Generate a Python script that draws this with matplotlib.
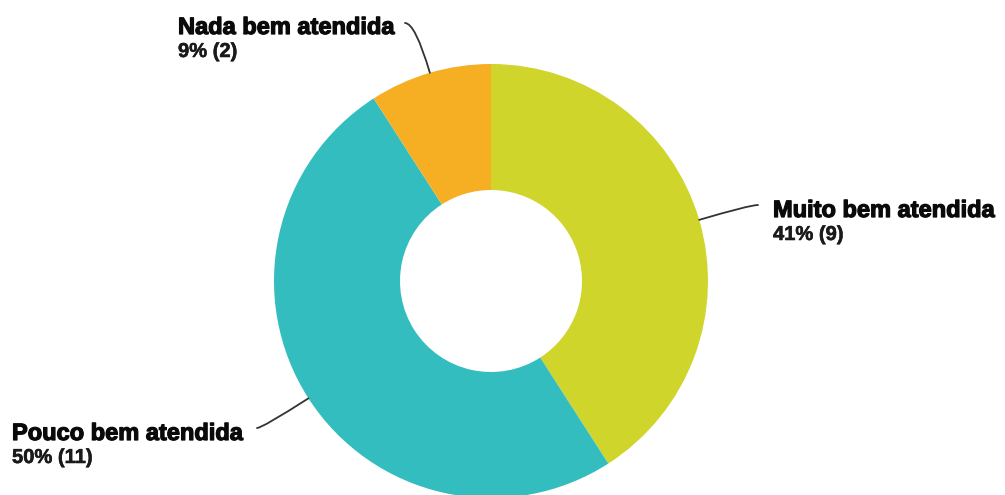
import numpy as np
import matplotlib
matplotlib.use("Agg")
import matplotlib.pyplot as plt
import matplotlib.patheffects as pe

# data
labels = ["Muito bem atendida", "Pouco bem atendida", "Nada bem atendida"]
counts = [9, 11, 2]
colors = ["#CFD52B", "#34BDBE", "#F6AF22"]

W, H = 1005, 495
plt.rcParams["font.family"] = ["Liberation Sans", "DejaVu Sans"]

fig = plt.figure(figsize=(W/100, H/100), dpi=100)
ax = fig.add_axes([0, 0, 1, 1])

cx, cy, R, r_in = 491, H - 281, 217, 91
wedges, _ = ax.pie(counts, colors=colors, startangle=90, counterclock=False,
                   center=(cx, cy), radius=R, frame=True,
                   wedgeprops=dict(width=R - r_in, linewidth=0))
ax.set_xlim(0, W); ax.set_ylim(0, H)
ax.set_aspect("equal"); ax.axis("off")

total = sum(counts)
pct = [round(100*c/total) for c in counts]

# label layout (pixel coords from top): text left x, baseline of first line, connector end
lab_pos = {
    "Muito bem atendida": (773, 217, (758, 205)),
    "Pouco bem atendida": (12, 440, (257, 428)),
    "Nada bem atendida":  (178, 34, (405, 23)),
}

heavy = [pe.withStroke(linewidth=0.9, foreground="#0a0a0a")]
medium = [pe.withStroke(linewidth=0.4, foreground="#1a1a1a")]

for w, lab, p, c in zip(wedges, labels, pct, counts):
    mid = np.deg2rad((w.theta1 + w.theta2) / 2)
    px, py = cx + R*np.cos(mid), cy + R*np.sin(mid)
    tx, ty, (ex, ey) = lab_pos[lab]
    ax.text(tx, H - ty, lab, fontsize=17, fontweight="bold", color="#0a0a0a",
            ha="left", va="baseline", path_effects=heavy)
    ax.text(tx, H - ty - 23, f"{p}% ({c})", fontsize=14.5, fontweight="bold",
            color="#1a1a1a", ha="left", va="baseline", path_effects=medium)
    ang = np.rad2deg(mid) % 180
    ax.annotate("", xy=(px, py), xytext=(ex, H - ey),
                arrowprops=dict(arrowstyle="-", color="#333333", lw=1.3,
                                shrinkA=0, shrinkB=0,
                                connectionstyle=f"angle3,angleA=0,angleB={ang:.1f}"))

fig.savefig("out.png", dpi=100)
